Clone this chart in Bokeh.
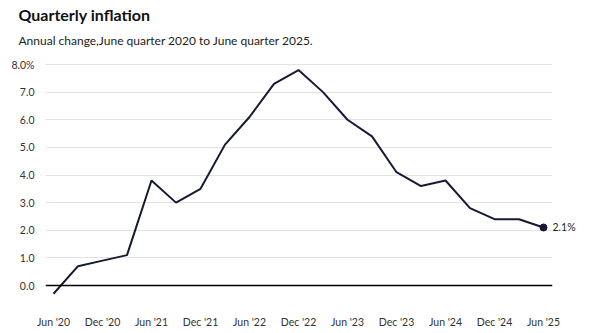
from bokeh.plotting import figure
from bokeh.models import FixedTicker, Span, Range1d, ColumnDataSource, Title, LinearAxis
from bokeh.embed import file_html
from bokeh.resources import INLINE

quarters = ["Jun '20", "Sep '20", "Dec '20", "Mar '21", "Jun '21", "Sep '21", "Dec '21",
            "Mar '22", "Jun '22", "Sep '22", "Dec '22", "Mar '23", "Jun '23", "Sep '23",
            "Dec '23", "Mar '24", "Jun '24", "Sep '24", "Dec '24", "Mar '25", "Jun '25"]
inflation = [-0.3, 0.7, 0.9, 1.1, 3.8, 3.0, 3.5, 5.1, 6.1, 7.3, 7.8, 7.0, 6.0, 5.4,
             4.1, 3.6, 3.8, 2.8, 2.4, 2.4, 2.1]
y_ticks = [0, 1, 2, 3, 4, 5, 6, 7, 8]
y_labels = ["0.0", "1.0", "2.0", "3.0", "4.0", "5.0", "6.0", "7.0", "8.0%"]

FONT = "Lato"
LINE = "#161a33"

xs = list(range(len(quarters)))
x0, x1 = -0.3265, 20.367
y0, y1 = -0.543, 8.326

p = figure(width=596, height=333, output_backend="svg", toolbar_location=None,
           x_range=Range1d(x0, x1), y_range=Range1d(y0, y1),
           min_border_left=45, min_border_right=44, min_border_top=55, min_border_bottom=33)
p.title.visible = False
p.outline_line_color = None
p.background_fill_color = "white"
p.border_fill_color = "white"

# titles (first added sits closest to the frame)
p.add_layout(Title(text="Annual change,June quarter 2020 to June quarter 2025.",
                   text_font=FONT, text_font_size="12px", text_font_style="normal",
                   text_color="#222222", standoff=15, offset=-27), "above")
p.add_layout(Title(text="Quarterly inflation",
                   text_font=FONT, text_font_size="16px", text_font_style="bold",
                   text_color="#111111", standoff=0, offset=-27), "above")

# axes
p.xaxis.ticker = FixedTicker(ticks=xs[::2])
p.xaxis.major_label_overrides = {i: quarters[i] for i in xs[::2]}
p.yaxis.ticker = FixedTicker(ticks=y_ticks)
p.yaxis.major_label_overrides = {t: l for t, l in zip(y_ticks, y_labels)}

# end-value label as a right-hand axis with a single tick
end_axis = LinearAxis(ticker=FixedTicker(ticks=[inflation[-1]]),
                      major_label_overrides={inflation[-1]: f"{inflation[-1]}%"})
p.add_layout(end_axis, "right")

for ax in (p.xaxis[0], p.yaxis[0], end_axis):
    ax.axis_line_color = None
    ax.major_tick_line_color = None
    ax.minor_tick_line_color = None
    ax.major_label_text_font = FONT
    ax.major_label_text_font_size = "10.5px"
    ax.major_label_text_color = "#333333"
p.xaxis.major_label_standoff = 9
p.yaxis[0].major_label_standoff = 5
end_axis.major_label_standoff = -6
end_axis.major_label_text_color = "#222222"

p.xgrid.grid_line_color = None
p.ygrid.ticker = FixedTicker(ticks=y_ticks[1:])
p.ygrid.grid_line_color = "#e3e3e3"
p.ygrid.grid_line_width = 1

p.add_layout(Span(location=0, dimension="width", line_color="black", line_width=1.5))

src = ColumnDataSource(dict(x=xs, y=inflation))
p.line("x", "y", source=src, line_color=LINE, line_width=2)
p.scatter([xs[-1]], [inflation[-1]], size=7, fill_color=LINE, line_color=LINE)

open("out.html", "w").write(file_html(p, INLINE))
